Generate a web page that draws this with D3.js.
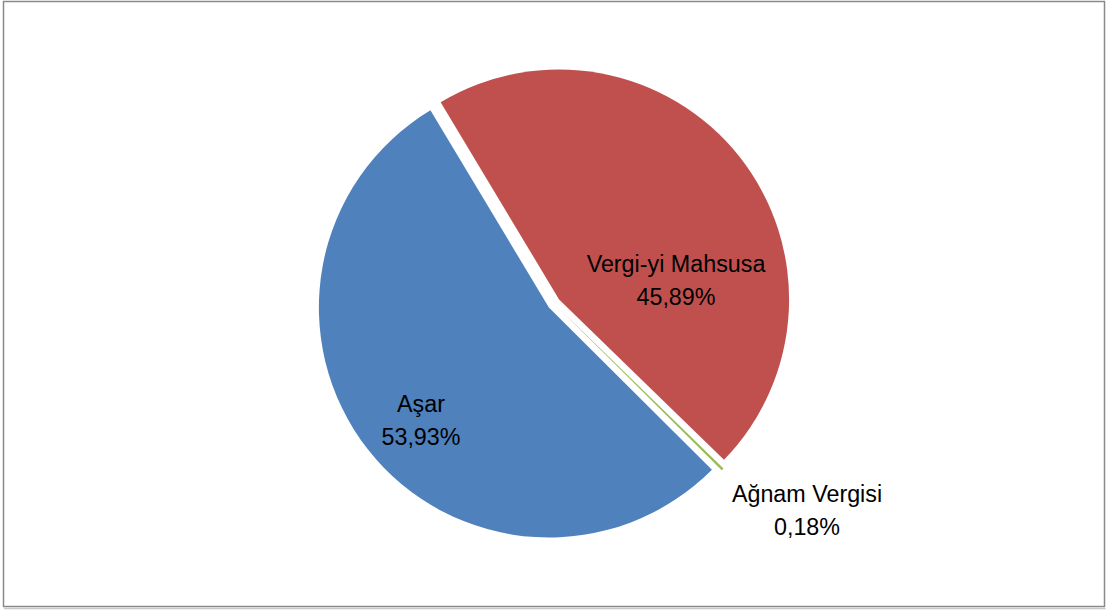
<!DOCTYPE html>
<html>
<head>
<meta charset="utf-8">
<script src="https://cdn.jsdelivr.net/npm/d3@7"></script>
<style>
  html, body { margin: 0; padding: 0; background: #ffffff; }
  svg { display: block; }
</style>
</head>
<body>
<svg id="chart" width="1110" height="612"></svg>
<script>
// ---- Data ----
const categories = ["Vergi-yi Mahsusa", "Ağnam Vergisi", "Aşar"];
const shares = [45.89, 0.18, 53.93];
const valueLabels = ["45,89%", "0,18%", "53,93%"];
const colors = ["#C0504D", "#9BBB59", "#4F81BD"];

// ---- Layout / style ----
const W = 1110, H = 612;
const cx = 554, cy = 303.5, R = 230;
const explode = 6.5;
const startDeg = -31;
const fontFamily = "'Liberation Sans', Arial, sans-serif";
const fontSize = 23.3;
const lineGap = 32.5;
// label anchor (centre of first baseline) for each slice, as [dx, dy] from pie centre
const labelOffsets = [[122, -31.5], [253, 198.5], [-133, 108.5]];

const svg = d3.select("#chart");

// frame
svg.append("rect")
  .attr("x", 3.5).attr("y", 1.5)
  .attr("width", 1101).attr("height", 605)
  .attr("fill", "#ffffff")
  .attr("stroke", "#8a8a8a")
  .attr("stroke-width", 1.5);
svg.append("line")
  .attr("x1", 4).attr("x2", 1105.5)
  .attr("y1", 608.5).attr("y2", 608.5)
  .attr("stroke", "#c8c8c8").attr("stroke-width", 1.5);

const data = categories.map((c, i) => ({ name: c, value: shares[i], label: valueLabels[i], color: colors[i] }));

const pie = d3.pie()
  .sort(null)
  .value(d => d.value)
  .startAngle(startDeg * Math.PI / 180)
  .endAngle((startDeg + 360) * Math.PI / 180);

const arc = d3.arc().innerRadius(0).outerRadius(R);

const arcs = pie(data);

const g = svg.append("g").attr("transform", `translate(${cx},${cy})`);

g.selectAll("path.slice")
  .data(arcs)
  .join("path")
  .attr("class", "slice")
  .attr("d", arc)
  .attr("fill", d => d.data.color)
  .attr("transform", d => {
    const mid = (d.startAngle + d.endAngle) / 2;
    return `translate(${explode * Math.sin(mid)},${-explode * Math.cos(mid)})`;
  });

// labels
const labels = svg.append("g")
  .attr("font-family", fontFamily)
  .attr("font-size", fontSize)
  .attr("fill", "#000000")
  .attr("text-anchor", "middle");

arcs.forEach((d, i) => {
  const [dx, dy] = labelOffsets[i];
  const t = labels.append("text")
    .attr("x", cx + dx)
    .attr("y", cy + dy);
  t.append("tspan").attr("x", cx + dx).attr("dy", 0).text(d.data.name);
  t.append("tspan").attr("x", cx + dx).attr("dy", lineGap).text(d.data.label);
});
</script>
</body>
</html>
